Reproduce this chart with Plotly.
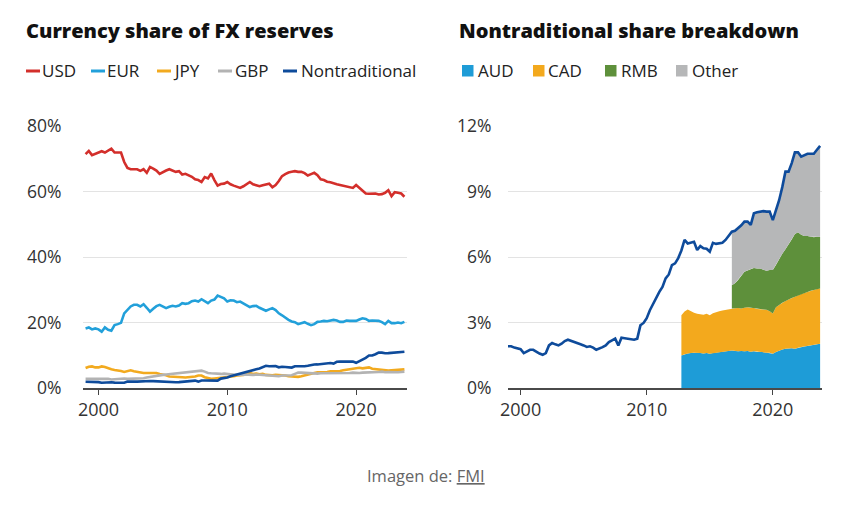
import plotly.graph_objects as go

# The page adds an 8px body margin, so the figure is drawn 8px in from the window edge.
OFF = 8
W, H = 848 - OFF, 513 - OFF

# ---------------- data (quarterly, 1999Q1 .. 2023Q4) ----------------
quarters = [1999 + 0.25 * i for i in range(100)]

usd = [71.4, 72.4, 71.1, 71.5,  71.9, 72.3, 71.9, 72.5,  73.1, 71.9, 72.0, 71.9,
       69.0, 67.2, 66.8, 66.9,  66.8, 66.3, 66.8, 65.7,  67.5, 67.0, 66.4, 65.4,
       66.0, 66.4, 66.8, 66.4,  66.0, 66.2, 65.2, 65.4,  64.9, 64.5, 63.7, 63.5,
       62.9, 64.4, 64.0, 65.5,  63.5, 61.8, 62.3, 62.4,  62.9, 62.2, 61.8, 61.5,
       61.1, 61.6, 62.3, 62.9,  62.2, 61.9, 61.6, 61.9,  62.1, 62.4, 61.3, 62.0,
       63.2, 64.7, 65.3, 65.8,  66.0, 66.2, 66.0, 66.0,  65.6, 64.9, 65.3, 65.7,
       65.0, 63.7, 63.5, 63.0,  62.8, 62.4, 62.2, 62.0,  61.8, 61.6, 61.2, 61.1,
       62.0, 61.1, 60.5, 59.4,  59.3, 59.4, 59.4, 59.1,  59.2, 59.6, 60.4, 58.6,
       59.8, 59.6, 59.4, 58.4]

eur = [18.2, 18.5, 17.9, 18.2,  17.9, 17.2, 18.5, 17.8,  17.5, 19.2, 19.5, 19.9,
       22.8, 24.0, 24.9, 25.4,  25.4, 24.9, 25.6, 24.5,  23.3, 24.2, 25.0, 25.4,
       24.9, 24.4, 24.8, 25.1,  24.9, 25.2, 25.9, 25.7,  25.9, 26.5, 26.7, 26.4,
       27.1, 26.6, 25.9, 26.7,  27.0, 28.2, 27.7, 27.4,  26.4, 26.8, 26.7, 26.2,
       26.4, 25.8, 25.3, 24.7,  25.0, 25.1, 24.5, 24.1,  23.6, 24.0, 24.4, 23.8,
       22.8, 22.2, 21.4, 20.8,  20.3, 20.1, 19.5, 19.8,  20.1, 19.6, 19.2, 19.5,
       20.2, 20.3, 20.5, 20.4,  20.5, 20.8, 20.6, 20.2,  20.2, 20.6, 20.5, 20.4,
       20.5, 20.9, 21.3, 21.1,  20.5, 20.6, 20.5, 20.5,  20.1, 19.5, 20.5, 19.8,
       19.8, 20.0, 19.8, 20.2]

jpy = [6.1, 6.5, 6.6, 6.3,  6.3, 6.6, 6.4, 6.0,  5.7, 5.5, 5.4, 5.2,
       4.9, 5.2, 5.4, 5.1,  4.9, 4.8, 4.6, 4.6,  4.6, 4.5, 4.6, 4.3,
       4.2, 3.9, 3.5, 3.5,  3.4, 3.3, 3.3, 3.2,  3.3, 3.2, 3.5, 3.8,
       3.8, 3.3, 3.0, 2.8,  2.9, 3.0, 3.0, 3.1,  3.3, 3.5, 3.6, 3.8,
       3.8, 4.0, 4.2, 4.6,  4.3, 4.4, 4.2, 4.3,  4.0, 3.9, 3.9, 4.0,
       4.0, 3.9, 3.8, 3.6,  3.5, 3.4, 3.4, 3.6,  3.9, 4.2, 4.5, 4.6,
       4.8, 4.8, 4.9, 4.9,  5.1, 5.1, 5.2, 5.2,  5.4, 5.6, 5.8, 6.0,
       6.2, 6.2, 6.0, 6.1,  6.3, 5.9, 5.8, 5.6,  5.5, 5.3, 5.3, 5.4,
       5.5, 5.6, 5.7, 5.7]

gbp = [2.8, 2.8, 2.9, 2.8,  2.9, 2.9, 2.8, 2.8,  2.6, 2.7, 2.8, 2.8,
       2.9, 2.8, 2.8, 2.8,  2.9, 2.9, 3.0, 3.2,  3.4, 3.5, 3.6, 3.9,
       4.0, 4.1, 4.2, 4.3,  4.4, 4.5, 4.6, 4.8,  5.0, 5.0, 5.1, 5.2,
       5.3, 5.0, 4.6, 4.5,  4.4, 4.3, 4.3, 4.4,  4.4, 4.2, 4.1, 4.0,
       4.0, 4.1, 4.0, 4.1,  4.0, 4.1, 4.0, 4.0,  4.0, 3.8, 3.7, 3.6,
       3.6, 3.8, 3.8, 3.7,  3.9, 4.3, 4.7, 4.7,  4.6, 4.5, 4.4, 4.3,
       4.4, 4.5, 4.5, 4.6,  4.6, 4.5, 4.5, 4.4,  4.4, 4.5, 4.6, 4.7,
       4.6, 4.6, 4.7, 4.7,  4.8, 4.7, 4.8, 4.9,  5.0, 4.8, 4.9, 4.8,
       4.9, 4.8, 4.9, 5.0]

nontrad = [1.91, 1.91, 1.85, 1.80,  1.78, 1.60, 1.68, 1.75,  1.75, 1.65, 1.58, 1.52,
           1.60, 1.95, 2.06, 2.00,  1.95, 2.03, 2.15, 2.21,  2.15, 2.10, 2.03, 2.00,
           1.95, 1.88, 1.91, 1.85,  1.75, 1.80, 1.87, 1.95,  2.10, 2.18, 2.26, 1.95,
           2.30, 2.28, 2.26, 2.24,  2.21, 2.26, 2.87, 2.98,  3.20, 3.56, 3.85, 4.17,
           4.40, 4.63, 5.02, 5.20,  5.63, 5.71, 5.95, 6.30,  6.78, 6.62, 6.65, 6.70,
           6.32, 6.50, 6.40, 6.38,  6.24, 6.65, 6.60, 6.62,  6.65, 6.78, 7.00, 7.16,
           7.20, 7.31, 7.45, 7.62,  7.62, 7.47, 8.00, 8.05,  8.08, 8.10, 8.08, 8.08,
           7.69, 8.15, 8.60, 9.20,  9.91, 9.91, 10.30, 10.79,  10.79, 10.60, 10.65, 10.73,
           10.73, 10.73, 10.91, 11.09]

# breakdown (AUD, CAD from 2012Q4; RMB, Other from 2016Q4)
breakdown_quarters = quarters[55:]
aud = [1.49,
       1.55, 1.58, 1.60, 1.62,  1.62, 1.60, 1.58, 1.60,  1.57, 1.60, 1.62, 1.65,
       1.66, 1.68, 1.70, 1.72,  1.70, 1.68, 1.70, 1.68,  1.70, 1.66, 1.68, 1.65,
       1.66, 1.64, 1.62, 1.62,  1.57, 1.65, 1.72, 1.76,  1.80, 1.82, 1.82, 1.80,
       1.84, 1.88, 1.90, 1.92,  1.95, 1.98, 2.00, 2.03]
cad = [1.84,
       1.95, 2.01, 1.90, 1.83,  1.78, 1.78, 1.77, 1.80,  1.76, 1.82, 1.86, 1.87,
       1.89, 1.90, 1.90, 1.92,  1.95, 1.98, 1.94, 2.00,  2.00, 2.00, 1.98, 1.97,
       1.96, 1.96, 1.96, 1.90,  1.84, 2.05, 2.08, 2.14,  2.18, 2.23, 2.30, 2.38,
       2.41, 2.42, 2.45, 2.48,  2.50, 2.52, 2.53, 2.53]
rmb_quarters = quarters[71:]
rmb = [1.07,
       1.15, 1.29, 1.51, 1.64,  1.68, 1.79, 1.84, 1.85,  1.85, 1.82, 1.79, 1.88,
       1.99, 1.93, 2.10, 2.25,  2.37, 2.50, 2.68, 2.87,  2.88, 2.72, 2.61, 2.56,
       2.48, 2.40, 2.40, 2.37]
other = [2.45,
         2.40, 2.36, 2.30, 2.30,  2.24, 2.02, 2.50, 2.58,  2.61, 2.68, 2.71, 2.68,
         2.29, 2.52, 2.70, 3.05,  3.56, 3.36, 3.50, 3.74,  3.66, 3.58, 3.69, 3.77,
         3.80, 3.83, 3.98, 4.16]

year_ticks = [2000, 2010, 2020]
left_pct_ticks = [0, 20, 40, 60, 80]
right_pct_ticks = [0, 3, 6, 9, 12]

left_series = [("USD", usd, "#d32f2b"), ("EUR", eur, "#22a0da"), ("JPY", jpy, "#f2aa1f"),
               ("GBP", gbp, "#b3b3b3"), ("Nontraditional", nontrad, "#0e4b9b")]
right_series = [("AUD", "#1e9cd7"), ("CAD", "#f3a91d"), ("RMB", "#5e903b"), ("Other", "#b6b7b8")]

# ---------------- figure ----------------
fig = go.Figure()

for name, vals, col in left_series:
    fig.add_trace(go.Scatter(x=quarters, y=vals, mode="lines", name=name,
                             line=dict(color=col, width=2.6), xaxis="x", yaxis="y",
                             showlegend=False))

# stacked areas (right)
n_off = len(breakdown_quarters) - len(rmb_quarters)
aud_top = aud
cad_top = [a + c for a, c in zip(aud, cad)]
rmb_top = [cad_top[n_off + i] + r for i, r in enumerate(rmb)]
other_top = [t + o for t, o in zip(rmb_top, other)]


def band(xs, lower, upper, col):
    fig.add_trace(go.Scatter(x=list(xs) + list(xs)[::-1], y=list(upper) + list(lower)[::-1],
                             mode="lines", fill="toself", fillcolor=col, line=dict(width=0),
                             xaxis="x2", yaxis="y2", showlegend=False, hoverinfo="skip"))


band(breakdown_quarters, [0] * len(aud), aud_top, right_series[0][1])
band(breakdown_quarters, aud_top, cad_top, right_series[1][1])
band(rmb_quarters, cad_top[n_off:], rmb_top, right_series[2][1])
band(rmb_quarters, rmb_top, other_top, right_series[3][1])

fig.add_trace(go.Scatter(x=quarters, y=nontrad, mode="lines", line=dict(color="#0e4b9b", width=2.6),
                         xaxis="x2", yaxis="y2", showlegend=False))


def px(x):
    return (x - OFF) / W


def py(y):
    return 1 - (y - OFF) / H


FONT = "Open Sans"
tick_font_y = dict(family=FONT, size=17.5, color="#333333")
tick_font_x = dict(family=FONT, size=18, color="#333333")

xcommon = dict(tickmode="array", tickvals=year_ticks, ticktext=[str(v) for v in year_ticks],
               ticks="outside", ticklen=5, tickwidth=1.3, tickcolor="#444",
               showline=True, linecolor="#4a4a4a", linewidth=1.6, showgrid=False, zeroline=False,
               tickfont=tick_font_x, fixedrange=True, automargin=False)
ycommon = dict(tickmode="array", showgrid=True, gridcolor="#e3e3e3", gridwidth=1, zeroline=False,
               showline=False, ticks="outside", tickcolor="rgba(0,0,0,0)",
               tickfont=tick_font_y, fixedrange=True, automargin=False)

fig.update_layout(
    width=W, height=H, autosize=False,
    margin=dict(l=0, r=0, t=0, b=0, pad=0, autoexpand=False),
    paper_bgcolor="white", plot_bgcolor="white", showlegend=False,
    xaxis=dict(domain=[px(83), px(407)], range=[1998.8, 2023.95], anchor="y", **xcommon),
    yaxis=dict(domain=[py(388), py(126)], range=[0, 80], tickvals=left_pct_ticks,
               ticktext=[f"{v}%" for v in left_pct_ticks], anchor="x", ticklen=17, **ycommon),
    xaxis2=dict(domain=[px(508), px(822)], range=[1999.0, 2023.9], anchor="y2", **xcommon),
    yaxis2=dict(domain=[py(388), py(126)], range=[0, 12], tickvals=right_pct_ticks,
                ticktext=[f"{v}%" for v in right_pct_ticks], anchor="x2", ticklen=12, **ycommon),
)

annotations = []
shapes = []


def text(x, y, s, size, color="#1a1a1a", xanchor="left", weight=400):
    annotations.append(dict(x=px(x), y=py(y), xref="paper", yref="paper", text=s, showarrow=False,
                            xanchor=xanchor, yanchor="middle", borderpad=0,
                            font=dict(family=FONT, size=size, color=color, weight=weight)))


# titles
text(25, 30, "Currency share of FX reserves", 20, "#111", weight=800)
text(458, 30, "Nontraditional share breakdown", 20, "#111", weight=800)

# left legend (line markers)
left_leg = [(26, 41), (91, 106), (157, 172), (218, 234), (283, 300)]
for (x0, xt), (name, _, col) in zip(left_leg, left_series):
    shapes.append(dict(type="line", xref="paper", yref="paper", x0=px(x0), x1=px(x0 + 14),
                       y0=py(71), y1=py(71), line=dict(color=col, width=3)))
    text(xt, 70.5, name, 17, "#222")

# right legend (squares)
right_leg = [(462, 477), (533, 547), (605, 620), (676, 691)]
for (x0, xt), (name, col) in zip(right_leg, right_series):
    shapes.append(dict(type="rect", xref="paper", yref="paper", x0=px(x0), x1=px(x0 + 11.5),
                       y0=py(76.5), y1=py(65), fillcolor=col, line=dict(width=0)))
    text(xt, 70.5, name, 17, "#222")

# caption
text(426, 475, "Imagen de: <span style='text-decoration:underline'>FMI</span>", 16.5, "#666666",
     xanchor="center")

fig.update_layout(annotations=annotations, shapes=shapes)

fig.write_html("out.html")
